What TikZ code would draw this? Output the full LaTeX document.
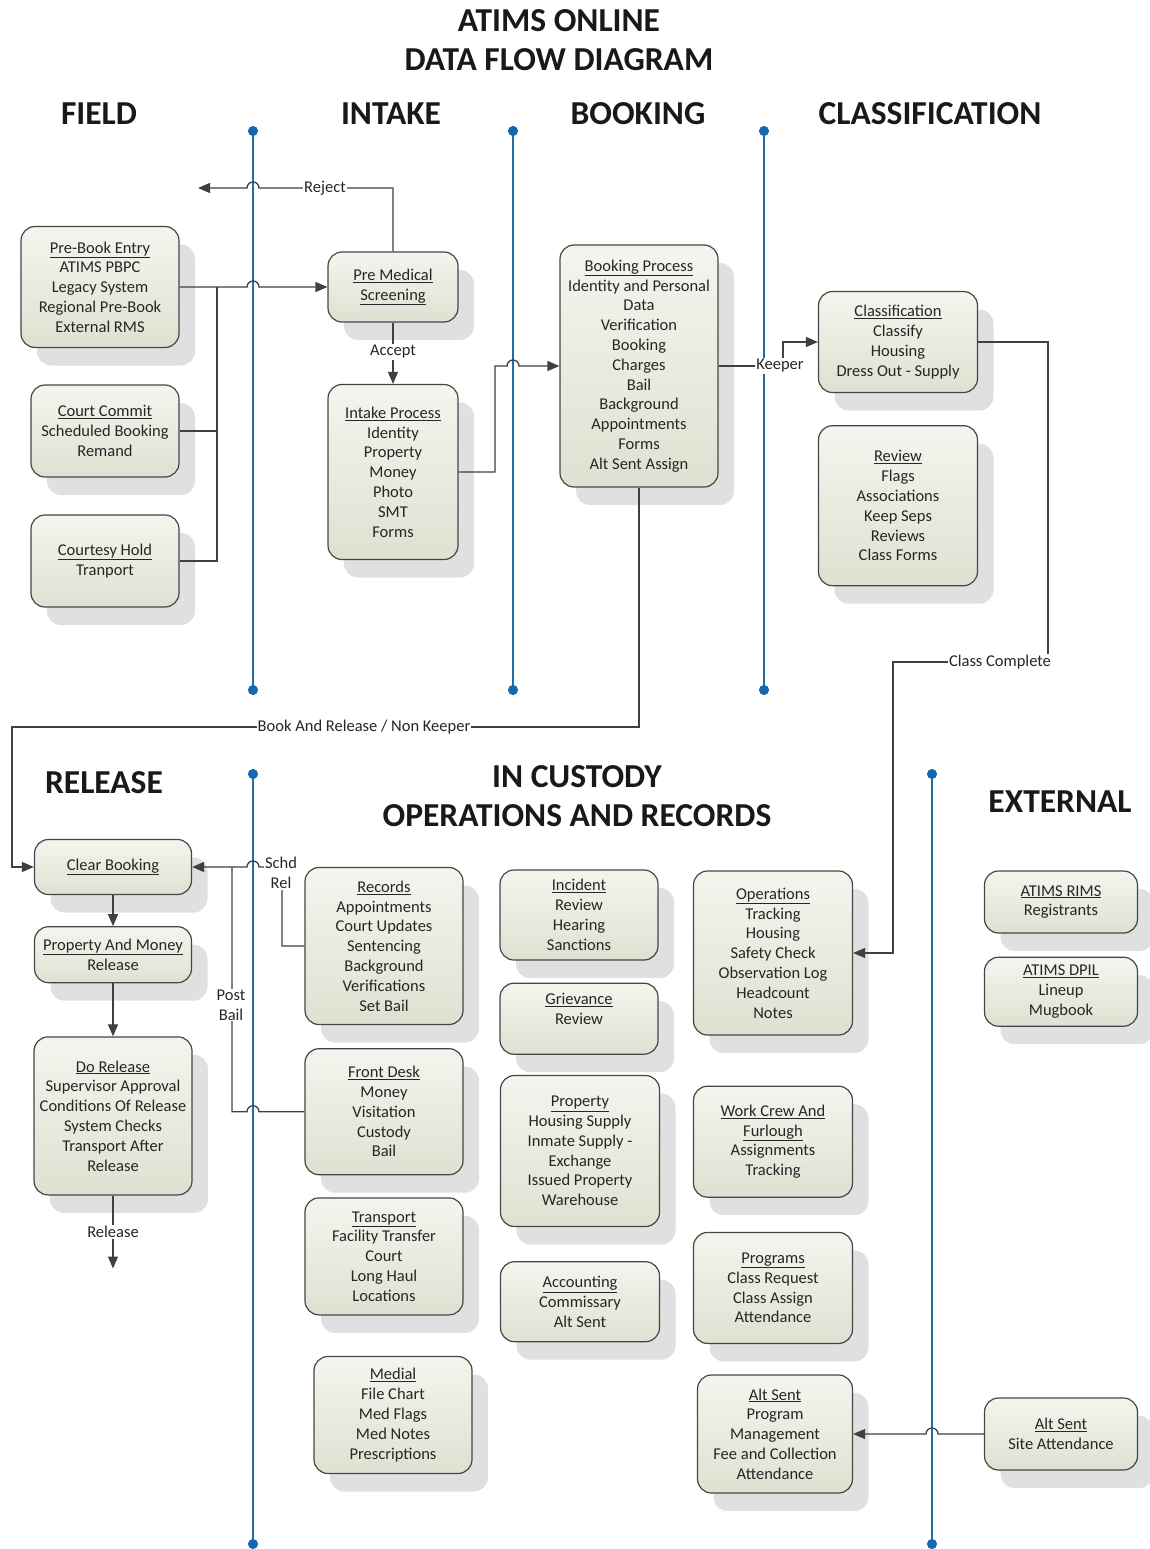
\documentclass[tikz,border=0pt]{standalone}
\usepackage{fontspec}
\setmainfont{Carlito}
\usepackage{tikz}
\definecolor{laneblue}{RGB}{31,111,164}
\definecolor{dotblue}{RGB}{22,102,178}
\definecolor{boxtop}{RGB}{244,245,238}
\definecolor{boxbottom}{RGB}{222,225,209}
\definecolor{boxline}{RGB}{70,70,70}
\definecolor{flowgray}{RGB}{64,64,64}
\usetikzlibrary{arrows.meta, positioning, shadows}
\newcommand{\boxfont}{\fontsize{16.5}{19.8}\selectfont}

\begin{document}
\begin{tikzpicture}[
    x=1pt, y=-1pt,
    node distance=22pt,
    proc/.style={rectangle, rounded corners=14pt, draw=boxline, line width=1.2pt,
                 top color=boxtop, bottom color=boxbottom, align=center, inner sep=0pt,
                 minimum width=158pt, font=\boxfont, text=black!85,
                 drop shadow={shadow xshift=16pt, shadow yshift=-18pt, fill=black!12, opacity=1}},
    heading/.style={font=\fontsize{33.5}{39.5}\selectfont\bfseries, align=center, text=black!90},
    lane/.style={draw=laneblue, line width=1.8pt,
                 {Circle[length=10pt, color=dotblue]}-{Circle[length=10pt, color=dotblue]}},
    link/.style={draw=flowgray, line width=1.3pt},
    flow/.style={link, -{Triangle[length=12pt, width=10pt]}},
    lbl/.style={fill=white, inner sep=1pt, font=\boxfont, align=center, text=black!85}
]
    \useasboundingbox (0,0) rectangle (1149,1549);

    % swim lanes
    \foreach \x/\ya/\yb in {253/126/695, 513/126/695, 764/126/695, 253/769/1549, 932/769/1549}
        \draw[lane] (\x,\ya) -- (\x,\yb);
    \coordinate (laneA) at (253,0);
    \coordinate (laneB) at (513,0);
    \coordinate (laneC) at (764,0);
    \coordinate (laneE) at (932,0);

    % headings
    \node[heading] (title) at (559,40) {ATIMS ONLINE\\DATA FLOW DIAGRAM};
    \node[heading] (hfield) at (99,114) {FIELD};
    \node[heading] (hintake) at (391,114) {INTAKE};
    \node[heading] (hbooking) at (638,114) {BOOKING};
    \node[heading] (hclass) at (930,114) {CLASSIFICATION};
    \node[heading] (hrelease) at (104,783) {RELEASE};
    \node[heading] (hcustody) at (577,796) {IN CUSTODY\\OPERATIONS AND RECORDS};
    \node[heading] (hexternal) at (1060,802) {EXTERNAL};

    % field
    \node[proc, minimum height=121pt] (prebook) at (100,287) {\underline{Pre-Book Entry}\\ATIMS PBPC\\Legacy System\\Regional Pre-Book\\External RMS};
    \node[proc, minimum width=148pt, minimum height=92pt] (court) at (105,431) {\underline{Court Commit}\\Scheduled Booking\\Remand};
    \node[proc, minimum width=148pt, minimum height=92pt] (courtesy) at (105,561) {\underline{Courtesy Hold}\\Tranport};

    % intake
    \node[proc, minimum width=130pt, minimum height=70pt] (premed) at (393,287) {\underline{Pre Medical}\\\underline{Screening}};
    \node[proc, minimum width=130pt, minimum height=175pt] (intake) at (393,472) {\underline{Intake Process}\\Identity\\Property\\Money\\Photo\\SMT\\Forms};

    % booking
    \node[proc, minimum height=242pt] (booking) at (639,366) {\underline{Booking Process}\\Identity and Personal\\Data\\Verification\\Booking\\Charges\\Bail\\Background\\Appointments\\Forms\\Alt Sent Assign};

    % classification
    \node[proc, minimum width=159pt, minimum height=101pt] (classif) at (898,342) {\underline{Classification}\\Classify\\Housing\\Dress Out - Supply};
    \node[proc, minimum width=159pt, minimum height=160pt, below=32pt of classif] (review) {\underline{Review}\\Flags\\Associations\\Keep Seps\\Reviews\\Class Forms};

    % release
    \node[proc, minimum width=157pt, minimum height=55pt] (clear) at (113,867) {\underline{Clear Booking}};
    \node[proc, minimum width=157pt, minimum height=56pt, below=31pt of clear] (propmoney) {\underline{Property And Money}\\Release};
    \node[proc, minimum height=158pt, below=53pt of propmoney] (dorelease) {\underline{Do Release}\\Supervisor Approval\\Conditions Of Release\\System Checks\\Transport After\\Release};

    % in custody
    \node[proc, minimum height=157pt] (records) at (384,946) {\underline{Records}\\Appointments\\Court Updates\\Sentencing\\Background\\Verifications\\Set Bail};
    \node[proc, minimum height=126pt, below=23pt of records] (frontdesk) {\underline{Front Desk}\\Money\\Visitation\\Custody\\Bail};
    \node[proc, minimum height=117pt, below=22pt of frontdesk] (transport) {\underline{Transport}\\Facility Transfer\\Court\\Long Haul\\Locations};
    \node[proc, minimum height=117pt] (medial) at (393,1415) {\underline{Medial}\\File Chart\\Med Flags\\Med Notes\\Prescriptions};

    \node[proc, minimum height=90pt] (incident) at (579,915) {\underline{Incident}\\Review\\Hearing\\Sanctions};
    \node[proc, minimum height=71pt, below=22pt of incident] (grievance) {\underline{Grievance}\\Review\\\mbox{}};
    \node[proc, minimum width=159pt, minimum height=151pt] (property) at (580,1151) {\underline{Property}\\Housing Supply\\Inmate Supply -\\Exchange\\Issued Property\\Warehouse};
    \node[proc, minimum width=159pt, minimum height=80pt, below=34pt of property] (accounting) {\underline{Accounting}\\Commissary\\Alt Sent};

    \node[proc, minimum width=159pt, minimum height=164pt] (ops) at (773,953) {\underline{Operations}\\Tracking\\Housing\\Safety Check\\Observation Log\\Headcount\\Notes};
    \node[proc, minimum width=159pt, minimum height=111pt, below=50pt of ops] (workcrew) {\underline{Work Crew And}\\\underline{Furlough}\\Assignments\\Tracking};
    \node[proc, minimum width=159pt, minimum height=111pt, below=34pt of workcrew] (programs) {\underline{Programs}\\Class Request\\Class Assign\\Attendance};
    \node[proc, minimum width=155pt, minimum height=118pt] (altsent) at (775,1434) {\underline{Alt Sent}\\Program\\Management\\Fee and Collection\\Attendance};

    % external
    \node[proc, minimum width=153pt, minimum height=62pt] (rims) at (1061,902) {\underline{ATIMS RIMS}\\Registrants};
    \node[proc, minimum width=153pt, minimum height=69pt, below=23pt of rims] (dpil) {\underline{ATIMS DPIL}\\Lineup\\Mugbook};
    \node[proc, minimum width=153pt, minimum height=72pt] (altsite) at (1061,1434) {\underline{Alt Sent}\\Site Attendance};

    % connectors
    \coordinate (fieldjoin) at (217,287);
    \coordinate (rejectend) at (198,188);
    \coordinate (intakebend) at (495,366);
    \coordinate (keeperbend) at (783,366);
    \coordinate (ccright) at (1048,662);
    \coordinate (ccleft) at (893,662);
    \coordinate (brleft) at (12,727);
    \coordinate (schdbend) at (282,867);
    \coordinate (bailbend) at (232,867);
    \coordinate[below=73pt of dorelease.south] (releaseout);

    \draw[flow] (prebook.east) -- ([xshift=-6pt]laneA |- prebook.east) arc[start angle=180, end angle=0, radius=6pt] -- (premed.west);
    \draw[link] (court.east) -| (fieldjoin);
    \draw[link] (courtesy.east) -| (fieldjoin);
    \draw[flow] (premed.north) |- ([xshift=6pt]laneA |- rejectend) arc[start angle=0, end angle=180, radius=6pt] -- (rejectend);
    \draw[flow] (premed.south) -- (intake.north);
    \draw[flow] (intake.east) -| (intakebend) -- ([xshift=-6pt]laneB |- intakebend) arc[start angle=180, end angle=0, radius=6pt] -- (booking.west);
    \draw[flow] (booking.east) -- (keeperbend) |- (classif.west);
    \draw[flow] (classif.east) -| (ccright) -- (ccleft) |- (ops.east);
    \draw[flow] (booking.south) |- (brleft) |- (clear.west);
    \draw[flow] (clear.south) -- (propmoney.north);
    \draw[flow] (propmoney.south) -- (dorelease.north);
    \draw[flow] (dorelease.south) -- (releaseout) node[lbl, pos=0.5] (lblrelease) {Release};
    \draw[flow] (records.west) -| (schdbend) -- ([xshift=6pt]laneA |- schdbend) arc[start angle=0, end angle=180, radius=6pt] -- (clear.east);
    \draw[link] (frontdesk.west) -- ([xshift=6pt]laneA |- frontdesk.west) arc[start angle=0, end angle=180, radius=6pt] -| (bailbend);
    \draw[flow] (altsite.west) -- ([xshift=6pt]laneE |- altsite.west) arc[start angle=0, end angle=180, radius=6pt] -- (altsent.east);

    \node[lbl] (lblreject) at (325,188) {Reject};
    \node[lbl] (lblaccept) at (393,352) {Accept};
    \node[lbl] (lblkeeper) at (780,366) {Keeper};
    \node[lbl] (lblclass) at (1000,662) {Class Complete};
    \node[lbl] (lblbook) at (364,727) {Book And Release / Non Keeper};
    \node[lbl] (lblschd) at (281,873) {Schd\\Rel};
    \node[lbl] (lblbail) at (231,1005) {Post\\Bail};
\end{tikzpicture}
\end{document}
